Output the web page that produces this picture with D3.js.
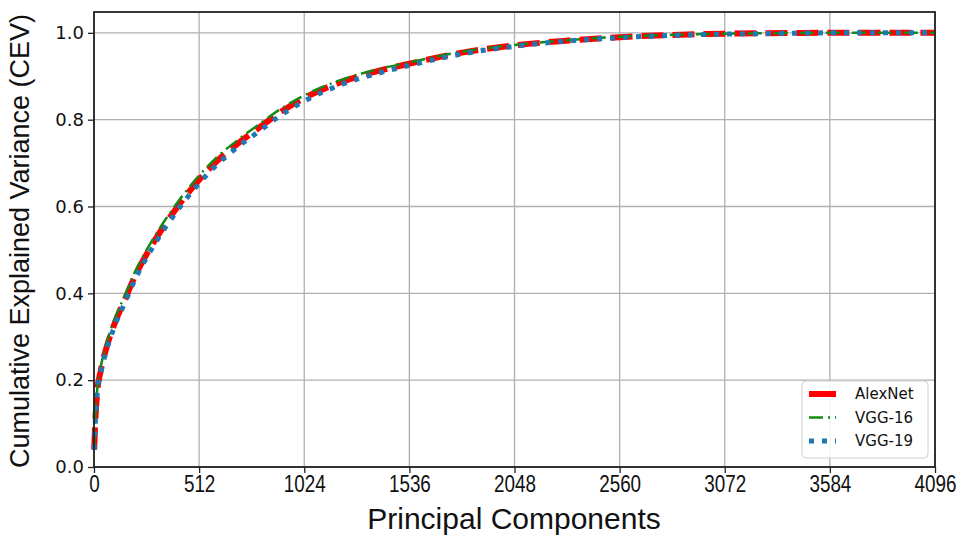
<!DOCTYPE html>
<html>
<head>
<meta charset="utf-8">
<script src="https://d3js.org/d3.v7.min.js"></script>
<style>
  body { margin: 0; background: #fff; }
  svg { display: block; }
</style>
</head>
<body>
<div id="viz"></div>
<script>

// number of principal components where each curve is sampled
var components = [1, 4, 8, 16, 32, 64, 100, 150, 200, 250, 300, 400, 500, 600, 700, 800, 900, 1024,
                  1200, 1400, 1536, 1800, 2048, 2300, 2560, 2800, 3072, 3400, 3584, 4096];

var alexnet = [0.040, 0.080, 0.120, 0.175, 0.220, 0.280, 0.330, 0.385, 0.440, 0.485, 0.525, 0.595, 0.655, 0.705, 0.745, 0.780, 0.815, 0.850,
               0.886, 0.914, 0.929, 0.955, 0.971, 0.982, 0.990, 0.995, 0.998, 0.9995, 1.000, 1.000];

var vgg16 = [0.040, 0.085, 0.125, 0.180, 0.228, 0.290, 0.340, 0.395, 0.450, 0.495, 0.535, 0.605, 0.665, 0.714, 0.753, 0.788, 0.822, 0.856,
             0.891, 0.918, 0.932, 0.957, 0.972, 0.983, 0.991, 0.995, 0.998, 0.9995, 1.000, 1.000];

var vgg19 = [0.040, 0.078, 0.118, 0.172, 0.215, 0.274, 0.324, 0.378, 0.432, 0.477, 0.517, 0.587, 0.647, 0.697, 0.737, 0.772, 0.807, 0.843,
             0.880, 0.909, 0.925, 0.952, 0.969, 0.981, 0.989, 0.994, 0.997, 0.999, 1.000, 1.000];

var xTicks = [0, 512, 1024, 1536, 2048, 2560, 3072, 3584, 4096];
var yTicks = [0.0, 0.2, 0.4, 0.6, 0.8, 1.0];

var seriesNames = ["AlexNet", "VGG-16", "VGG-19"];

var width = 963,
    height = 538;

// plot box (window.top is reserved, so use other names)
var plotLeft = 94, plotRight = 935, plotTop = 12, plotBottom = 467;

var svg = d3.select("#viz")
    .append("svg")
    .attr("width", width)
    .attr("height", height);

var x = d3.scaleLinear().domain([0, 4096]).range([plotLeft, plotRight]);
var y = d3.scaleLinear().domain([0, 1.048]).range([plotBottom, plotTop]);

// line styles per series
var styles = {
  "AlexNet": { color: "#ff0000", width: 6,   dash: "22,9" },
  "VGG-16":  { color: "#138a13", width: 2.5, dash: "14,5,2,5" },
  "VGG-19":  { color: "#1f77b4", width: 5,   dash: "5,8" }
};

// ****************** Grid section ***************************
svg.append("g")
    .selectAll("line")
    .data(xTicks)
    .enter().append("line")
      .attr("x1", function(d) { return x(d); })
      .attr("x2", function(d) { return x(d); })
      .attr("y1", plotTop)
      .attr("y2", plotBottom)
      .attr("stroke", "#b0b0b0")
      .attr("stroke-width", 1.3);

svg.append("g")
    .selectAll("line")
    .data(yTicks)
    .enter().append("line")
      .attr("x1", plotLeft)
      .attr("x2", plotRight)
      .attr("y1", function(d) { return y(d); })
      .attr("y2", function(d) { return y(d); })
      .attr("stroke", "#b0b0b0")
      .attr("stroke-width", 1.3);

// ****************** Line section ***************************
var series = [
  { name: "AlexNet", values: alexnet },
  { name: "VGG-16", values: vgg16 },
  { name: "VGG-19", values: vgg19 }
];

var line = d3.line()
    .x(function(d, i) { return x(components[i]); })
    .y(function(d) { return y(d); })
    .curve(d3.curveMonotoneX);

svg.append("g")
    .selectAll("path")
    .data(series)
    .enter().append("path")
      .attr("d", function(d) { return line(d.values); })
      .attr("fill", "none")
      .attr("stroke", function(d) { return styles[d.name].color; })
      .attr("stroke-width", function(d) { return styles[d.name].width; })
      .attr("stroke-dasharray", function(d) { return styles[d.name].dash; });

// ****************** Axes section ***************************
var xAxis = svg.append("g")
    .attr("transform", "translate(0," + plotBottom + ")")
    .call(d3.axisBottom(x).tickValues(xTicks).tickSize(6).tickPadding(3).tickFormat(d3.format("d")));

xAxis.select(".domain").remove();
xAxis.selectAll("line").attr("stroke", "#222").attr("stroke-width", 1.3);
xAxis.selectAll("text")
    .attr("fill", "#111")
    .attr("transform", "scale(0.82,1)")
    .style("font-family", "'Liberation Sans', Arial, sans-serif")
    .style("font-size", "23px");

var yAxis = svg.append("g")
    .attr("transform", "translate(" + plotLeft + ",0)")
    .call(d3.axisLeft(y).tickValues(yTicks).tickSize(6).tickPadding(4).tickFormat(d3.format(".1f")));

yAxis.select(".domain").remove();
yAxis.selectAll("line").attr("stroke", "#222").attr("stroke-width", 1.3);
yAxis.selectAll("text")
    .attr("fill", "#111")
    .style("font-family", "'DejaVu Sans', sans-serif")
    .style("font-size", "18px");

// frame
svg.append("rect")
    .attr("x", plotLeft)
    .attr("y", plotTop)
    .attr("width", plotRight - plotLeft)
    .attr("height", plotBottom - plotTop)
    .attr("fill", "none")
    .attr("stroke", "#222")
    .attr("stroke-width", 1.8);

// axis titles
svg.append("text")
    .text("Principal Components")
    .attr("x", 514)
    .attr("y", 529)
    .attr("text-anchor", "middle")
    .attr("fill", "#111")
    .style("font-family", "'Liberation Sans', Arial, sans-serif")
    .style("font-size", "30px");

svg.append("text")
    .text("Cumulative Explained Variance (CEV)")
    .attr("transform", "translate(29,241) rotate(-90)")
    .attr("text-anchor", "middle")
    .attr("fill", "#111")
    .style("font-family", "'Liberation Sans', Arial, sans-serif")
    .style("font-size", "27px");

// ****************** Legend section ***************************
var legend = svg.append("g")
    .attr("transform", "translate(802,381)");

legend.append("rect")
    .attr("width", 126)
    .attr("height", 77)
    .attr("rx", 4)
    .attr("fill", "#fff")
    .attr("fill-opacity", 0.85)
    .attr("stroke", "#d0d0d0");

var item = legend.selectAll("g.item")
    .data(seriesNames)
    .enter().append("g")
      .attr("class", "item")
      .attr("transform", function(d, i) { return "translate(0," + (13 + i * 23.5) + ")"; });

item.append("line")
    .attr("x1", 7)
    .attr("x2", 34)
    .attr("y1", 0)
    .attr("y2", 0)
    .attr("stroke", function(d) { return styles[d].color; })
    .attr("stroke-width", function(d) { return styles[d].width; })
    .attr("stroke-dasharray", function(d) { return d == "AlexNet" ? null : styles[d].dash; });

item.append("text")
    .text(function(d) { return d; })
    .attr("x", 53)
    .attr("y", 5)
    .attr("fill", "#111")
    .style("font-family", "'DejaVu Sans', sans-serif")
    .style("font-size", "15px");

</script>
</body>
</html>
